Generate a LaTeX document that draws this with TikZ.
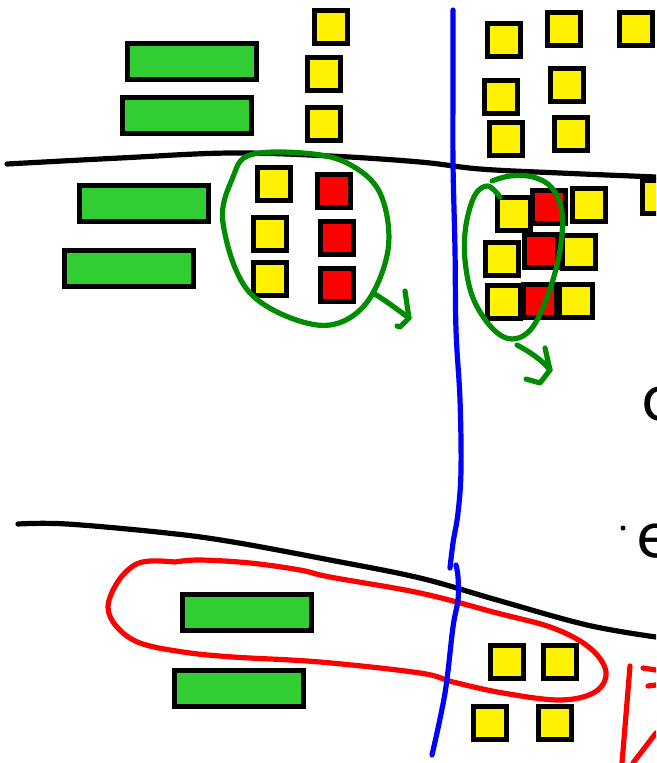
\documentclass[tikz,border=0pt]{standalone}
\usepackage{fontspec}
\newfontfamily\handfont{DejaVu Sans}
\begin{document}
\begin{tikzpicture}[x=1pt,y=-1pt,
  pen/.style={line width=5.2pt,line cap=round,line join=round},
  ysq/.style={draw=black,line width=5pt,fill=yellow,inner sep=0pt,minimum size=33pt},
  rsq/.style={draw=black,line width=5pt,fill=red,inner sep=0pt,minimum size=33pt},
  gbar/.style={draw=black,line width=5pt,fill={rgb,255:red,50;green,205;blue,50},inner sep=0pt,minimum width=129pt,minimum height=36pt},
  gpen/.style={pen,draw={rgb,255:red,0;green,140;blue,0}},
  bpen/.style={pen,draw=blue},
  rpen/.style={pen,draw=red},
  kpen/.style={pen,draw=black}]
\useasboundingbox (0,0) rectangle (656,763);
\fill[white] (0,0) rectangle (656,763);
\clip (0,0) rectangle (656,763);

% black curves
\draw[kpen] plot[smooth,tension=0.6] coordinates {(7,164) (120,158) (230,153) (330,156) (420,162) (480,169) (560,173) (656,177)};
\draw[kpen] plot[smooth,tension=0.6] coordinates {(18,524) (67,524) (167,533) (233,542) (330,560) (420,578) (497,600) (587,625) (656,637)};

% red loop
\draw[rpen] plot[smooth,tension=0.6] coordinates {(175,562) (200,560) (250,563) (300,570) (330,577) (420,593) (497,613) (553,628) (590,648) (606,672) (595,692) (560,700) (503,693) (453,682) (420,673) (320,662) (233,657) (183,652) (140,643) (117,627) (108,607) (117,583) (133,566) (150,561) (175,562)};

% blue lines
\draw[bpen] plot[smooth,tension=0.6] coordinates {(453,10) (453,80) (453,163) (455,250) (456,330) (460,400) (461,470) (458,513) (453,543) (450,568)};
\draw[bpen] plot[smooth,tension=0.6] coordinates {(456,565) (458,577) (458,600) (453,627) (445,693) (432,755)};

% green bars
\node[gbar] (g1) at (192,61) {};
\node[gbar] (g2) at (187,115) {};
\node[gbar] (g3) at (144,203) {};
\node[gbar] (g4) at (129,268) {};
\node[gbar] (g5) at (247,612) {};
\node[gbar] (g6) at (239,688) {};

% top middle column
\node[ysq] (t1) at (331,27) {};
\node[ysq] (t2) at (324,74) {};
\node[ysq] (t3) at (324,124) {};

% left circled group
\node[ysq] (ly1) at (274,184) {};
\node[ysq] (ly2) at (270,234) {};
\node[ysq] (ly3) at (270,279) {};
\node[rsq] (lr1) at (334,191) {};
\node[rsq] (lr2) at (337,238) {};
\node[rsq] (lr3) at (337,285) {};

% top right squares
\node[ysq] (q1) at (504,40) {};
\node[ysq] (q2) at (564,29) {};
\node[ysq] (q3) at (636,29) {};
\node[ysq] (q4) at (501,97) {};
\node[ysq] (q5) at (567,85) {};
\node[ysq] (q6) at (506,139) {};
\node[ysq] (q7) at (571,134) {};

% right cluster
\node[ysq] (c1) at (514,214) {};
\node[ysq] (c3) at (589,205) {};
\node[ysq] (c4) at (659,197) {};
\node[rsq] (c2) at (549,207) {};
\node[ysq] (c5) at (502,259) {};
\node[ysq] (c7) at (579,252) {};
\node[rsq] (c6) at (541,251) {};
\node[ysq] (c8) at (504,302) {};
\node[ysq] (c10) at (576,301) {};
\node[rsq] (c9) at (540,301) {};

% bottom squares
\node[ysq] (b1) at (507,662) {};
\node[ysq] (b2) at (560,662) {};
\node[ysq] (b3) at (490,723) {};
\node[ysq] (b4) at (555,723) {};

% green loops
\draw[gpen] plot[smooth cycle,tension=0.6] coordinates {(250,155) (303,153) (347,163) (380,193) (388,250) (363,307) (317,325) (250,293) (223,223) (233,177)};
\draw[gpen] plot[smooth,tension=0.6] coordinates {(500,197) (488,186) (475,195) (466,225) (465,260) (473,298) (492,328) (512,339) (532,328) (549,292) (560,250) (562,213) (552,188) (533,177) (510,176) (492,181)};

% green arrows
\coordinate (la0) at (373,293);
\coordinate (la1) at (409,318);
\draw[gpen] (la0) .. controls (385,300) and (398,310) .. (la1);
\draw[gpen] (405,291) -- (la1) -- (400,327) -- (397,326);
\coordinate (ra0) at (517,345);
\coordinate (ra1) at (550,370);
\draw[gpen] (ra0) .. controls (530,352) and (542,360) .. (ra1);
\draw[gpen] (545,348) -- (ra1) -- (540,383) -- (526,379);

% red strokes bottom right
\draw[rpen] (630,666) -- (622,763);
\draw[rpen] (643,668) -- (656,670);
\draw[rpen] (648,686) -- (656,685);
\draw[rpen] (633,763) -- (656,733);

% text cut off at the right edge, as in the reference
\node[anchor=base west,inner sep=0pt,font=\handfont\fontsize{60}{60}\selectfont] (tc) at (641,420) {c};
\node[anchor=base west,inner sep=0pt,font=\handfont\fontsize{60}{60}\selectfont] (te) at (636,557) {e};
\fill (623,528) circle (2.5);
\end{tikzpicture}
\end{document}
